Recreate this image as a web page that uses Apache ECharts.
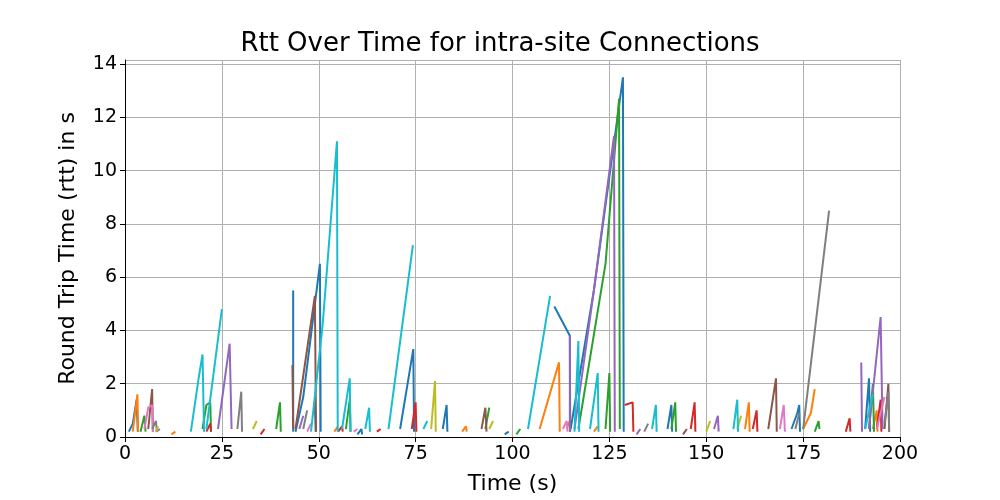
<!DOCTYPE html>
<html><head><meta charset="utf-8">
<script src="https://cdn.jsdelivr.net/npm/echarts@6/dist/echarts.min.js"></script>
<style>html,body{margin:0;padding:0;background:#fff}#c{width:1000px;height:500px}</style>
</head><body><div id="c"></div>
<script>
const colors = {blue:'#1f77b4',orange:'#ff7f0e',green:'#2ca02c',red:'#d62728',purple:'#9467bd',brown:'#8c564b',pink:'#e377c2',gray:'#7f7f7f',olive:'#bcbd22',cyan:'#17becf'};
const blueSegs = [[[1,0.2],[2,0.5],[3,1.4],[3.3,0.2]],[[43.4,5.5],[43.4,0.2]],[[44,0.2],[46,1.5],[50.3,6.5],[50.5,0.2]],[[71,0.3],[74.4,3.3],[74.6,0.2]],[[110.8,4.9],[114.8,3.8],[114.9,0.2]],[[115,0.3],[121,5.5],[128.5,13.5],[128.7,0.2]],[[140,0.3],[141,1.2],[141.2,0.2]],[[172,0.3],[173.5,0.9],[174,1.2],[174.2,0.2]],[[191,0.3],[192,2.2],[192.3,0.2]],[[49,1.3],[49.2,0.2]],[[82,0.3],[83,1.2],[83.2,0.2]],[[60,0.1],[61,0.3],[61.2,0.1]],[[98,0.1],[99,0.2]]];
const orangeSegs = [[[2,0.2],[3.2,1.6],[3.4,0.2]],[[54,0.2],[55,0.4]],[[87,0.2],[88,0.4],[88.2,0.2]],[[107,0.3],[112,2.8],[112.2,0.2]],[[160,0.3],[161,1.3],[161.2,0.2]],[[175,0.3],[177,0.9],[178,1.8]],[[193,0.3],[194,1.0],[194.2,0.2]],[[121,0.2],[122,0.4]],[[114,0.3],[115,0.7]],[[12,0.1],[13,0.2]]];
const greenSegs = [[[4,0.2],[5,0.8],[5.3,0.2]],[[20,0.3],[21,1.2],[22,1.3],[22.2,0.2]],[[39,0.3],[40,1.3],[40.2,0.2]],[[57,0.3],[58,1.4],[58.2,0.2]],[[117,0.3],[124,6.5],[127.5,12.7],[127.7,0.3]],[[141,0.3],[142,1.3],[142.2,0.2]],[[124,0.3],[125,2.4],[125.2,0.2]],[[178,0.2],[179,0.6],[179.2,0.3]],[[192,0.3],[193,2.0],[193.3,0.2]],[[93,0.3],[94,1.1]],[[101,0.1],[102,0.3]]];
const redSegs = [[[21,0.2],[22,0.5],[22.2,0.2]],[[55,0.2],[56,0.4],[56.2,0.2]],[[129,1.2],[131,1.3],[131.2,0.2]],[[146,0.3],[147,1.3],[147.2,0.2]],[[162,0.3],[163,1.0],[163.2,0.2]],[[186,0.2],[187,0.7],[187.2,0.2]],[[194,0.3],[195,1.4],[195.2,0.2]],[[74,0.3],[75,1.3],[75.2,0.2]],[[65,0.2],[66,0.3]],[[35,0.1],[36,0.3]]];
const purpleSegs = [[[24,0.3],[27,3.5],[27.5,0.3]],[[114.8,3.8],[114.8,0.2]],[[116,0.3],[121,5.5],[126.2,11.3],[126.4,0.2]],[[190,2.8],[190.2,0.2]],[[192,0.3],[195,4.5],[195.5,0.3]],[[152,0.3],[153,0.8],[153.2,0.2]],[[45,0.3],[46,0.8]],[[8,0.2],[9,0.3]],[[132,0.1],[133,0.3]]];
const brownSegs = [[[6,0.3],[7,1.8],[7.2,0.2]],[[44,0.3],[49,5.3],[49.3,0.2]],[[43.2,2.7],[43.4,0.3]],[[166,0.3],[168,2.2],[168.2,0.2]],[[196,0.3],[197,2.0],[197.2,0.2]],[[92,0.3],[93,1.1],[93.3,0.2]],[[144,0.1],[145,0.3]]];
const pinkSegs = [[[5,0.3],[6,1.1],[7,1.2],[7.2,0.2]],[[59,0.2],[60,0.3]],[[169,0.3],[170,1.2],[170.3,0.2]],[[113,0.3],[114,0.6],[114.2,0.2]],[[194,0.3],[195,0.9],[196,1.5]],[[47,0.2],[48,0.5]]];
const graySegs = [[[7,0.3],[8,0.6],[8.2,0.2]],[[29,0.3],[30,1.7],[30.2,0.2]],[[46,0.3],[47,1.0]],[[175,0.3],[181.7,8.5]],[[173,0.3],[174,0.9]],[[196,0.5],[197,1.7],[197.2,0.2]],[[134,0.2],[135,0.5]]];
const oliveSegs = [[[8,0.2],[8.5,0.4]],[[33,0.3],[34,0.6]],[[79,0.3],[80,2.1],[80.2,0.2]],[[94,0.3],[95,0.6]],[[150,0.2],[151,0.6]],[[158,0.3],[159,0.8]]];
const cyanSegs = [[[17,0.2],[19,2.2],[20,3.1],[20.4,0.2]],[[21,0.3],[25,4.8]],[[48,0.2],[51,4.2],[54.7,11.1],[54.9,0.2]],[[56,0.3],[58,2.2],[58.2,0.2]],[[62,0.3],[63,1.1],[63.2,0.2]],[[68,0.3],[74.3,7.2]],[[104,0.3],[109.7,5.3]],[[116,0.2],[117,3.6],[117.2,0.2]],[[120,0.3],[122,2.4],[122.2,0.2]],[[136,0.3],[137,1.2],[137.2,0.2]],[[157,0.3],[158,1.4],[158.2,0.2]],[[191,0.3],[193,1.6]],[[77,0.3],[78,0.6]]];
const groups = {blue:blueSegs,orange:orangeSegs,green:greenSegs,red:redSegs,purple:purpleSegs,brown:brownSegs,pink:pinkSegs,gray:graySegs,olive:oliveSegs,cyan:cyanSegs};
const series = [];
for (const k in groups) for (const seg of groups[k]) series.push({type:'line',data:seg,showSymbol:false,symbol:'none',lineStyle:{color:colors[k],width:2},itemStyle:{color:colors[k]},animation:false});
const ch = echarts.init(document.getElementById('c'));
const font = 'DejaVu Sans';
ch.setOption({
  title:{text:'Rtt Over Time for intra-site Connections',left:'center',top:26,textStyle:{fontFamily:font,fontSize:26,fontWeight:'normal',color:'#000'}},
  grid:{left:125,right:100,top:60,bottom:55},
  xAxis:{type:'value',min:0,max:200,interval:25,name:'Time (s)',nameLocation:'middle',nameGap:36,nameTextStyle:{fontFamily:font,fontSize:22,color:'#000'},
    axisLine:{lineStyle:{color:'#000'}},axisTick:{show:true,lineStyle:{color:'#000'}},axisLabel:{fontFamily:font,fontSize:19,color:'#000'},splitLine:{show:true,lineStyle:{color:'#b0b0b0'}}},
  yAxis:{type:'value',min:0,max:14.15,interval:2,name:'Round Trip Time (rtt) in s',nameLocation:'middle',nameGap:46,nameTextStyle:{fontFamily:font,fontSize:22,color:'#000'},
    axisLine:{show:true,lineStyle:{color:'#000'}},axisTick:{show:true,lineStyle:{color:'#000'}},axisLabel:{fontFamily:font,fontSize:19,color:'#000',showMaxLabel:false},splitLine:{show:true,lineStyle:{color:'#b0b0b0'}}},
  series
});
</script></body></html>
